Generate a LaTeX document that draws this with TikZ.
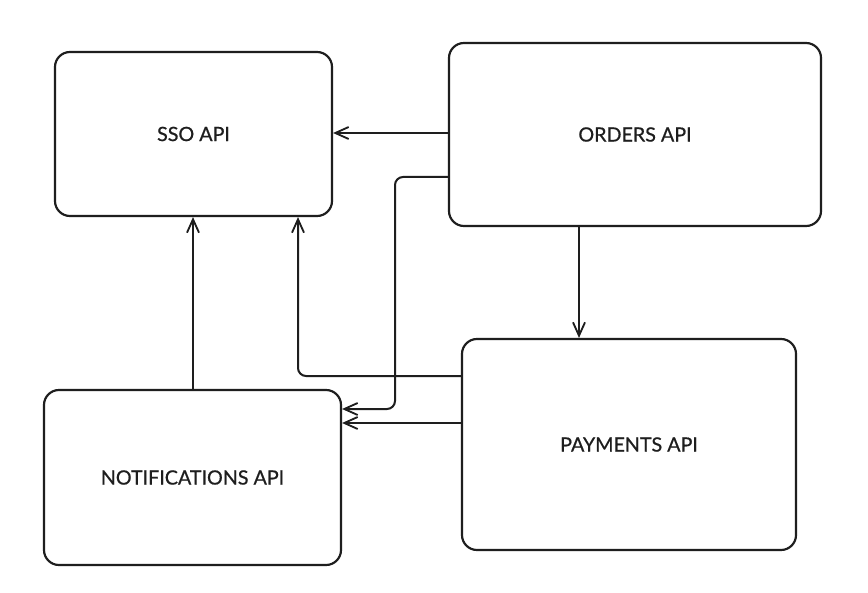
\documentclass[tikz,border=0pt]{standalone}
\usepackage{fontspec}
\setmainfont{Lato}[UprightFeatures={FakeBold=0.7}]
\usepackage{tikz}
\usetikzlibrary{arrows.meta, positioning, calc}
\definecolor{InkBlack}{HTML}{1E1E1E}
\tikzset{
  % Box styles
  apibox/.style={rectangle, rounded corners=0.45cm, draw=InkBlack, line width=0.065cm, fill=white, font=\fontsize{16.8}{20}\selectfont, text=InkBlack, align=center},
  % Arrow styles
  arrow/.style={-{Straight Barb[length=0.4cm, width=0.36cm, line width=0.055cm]}, line width=0.06cm, InkBlack, rounded corners=0.24cm}
}
\begin{document}
\begin{tikzpicture}[x=0.03cm, y=-0.03cm]
  % Canvas
  \useasboundingbox (0,0) rectangle (868,593);
  \fill[white] (0,0) rectangle (868,593);

  % Services
  \node[apibox, minimum width=8.31cm, minimum height=4.92cm] (sso) at (193.5,134) {SSO API};
  \node[apibox, minimum width=11.16cm, minimum height=5.49cm] (orders) at (635,134.5) {ORDERS API};
  \node[apibox, minimum width=10.02cm, minimum height=6.33cm] (payments) at (629,444.5) {PAYMENTS API};
  \node[apibox, minimum width=8.91cm, minimum height=5.25cm] (notifications) at (192.5,477.5) {NOTIFICATIONS API};

  % Calls from orders
  \draw[arrow] (orders.west |- 0,133) -- (sso.east |- 0,133);
  \draw[arrow] (orders.west |- 0,177) -- (395,177) -- (395,409) -- (notifications.east |- 0,409);
  \draw[arrow] (orders.south -| 579,0) -- (payments.north -| 579,0);

  % Calls from payments
  \draw[arrow] (payments.west |- 0,376) -- (298,376) -- (sso.south -| 298,0);
  \draw[arrow] (payments.west |- 0,423) -- (notifications.east |- 0,423);

  % Calls from notifications
  \draw[arrow] (notifications.north -| 193,0) -- (sso.south -| 193,0);
\end{tikzpicture}
\end{document}
